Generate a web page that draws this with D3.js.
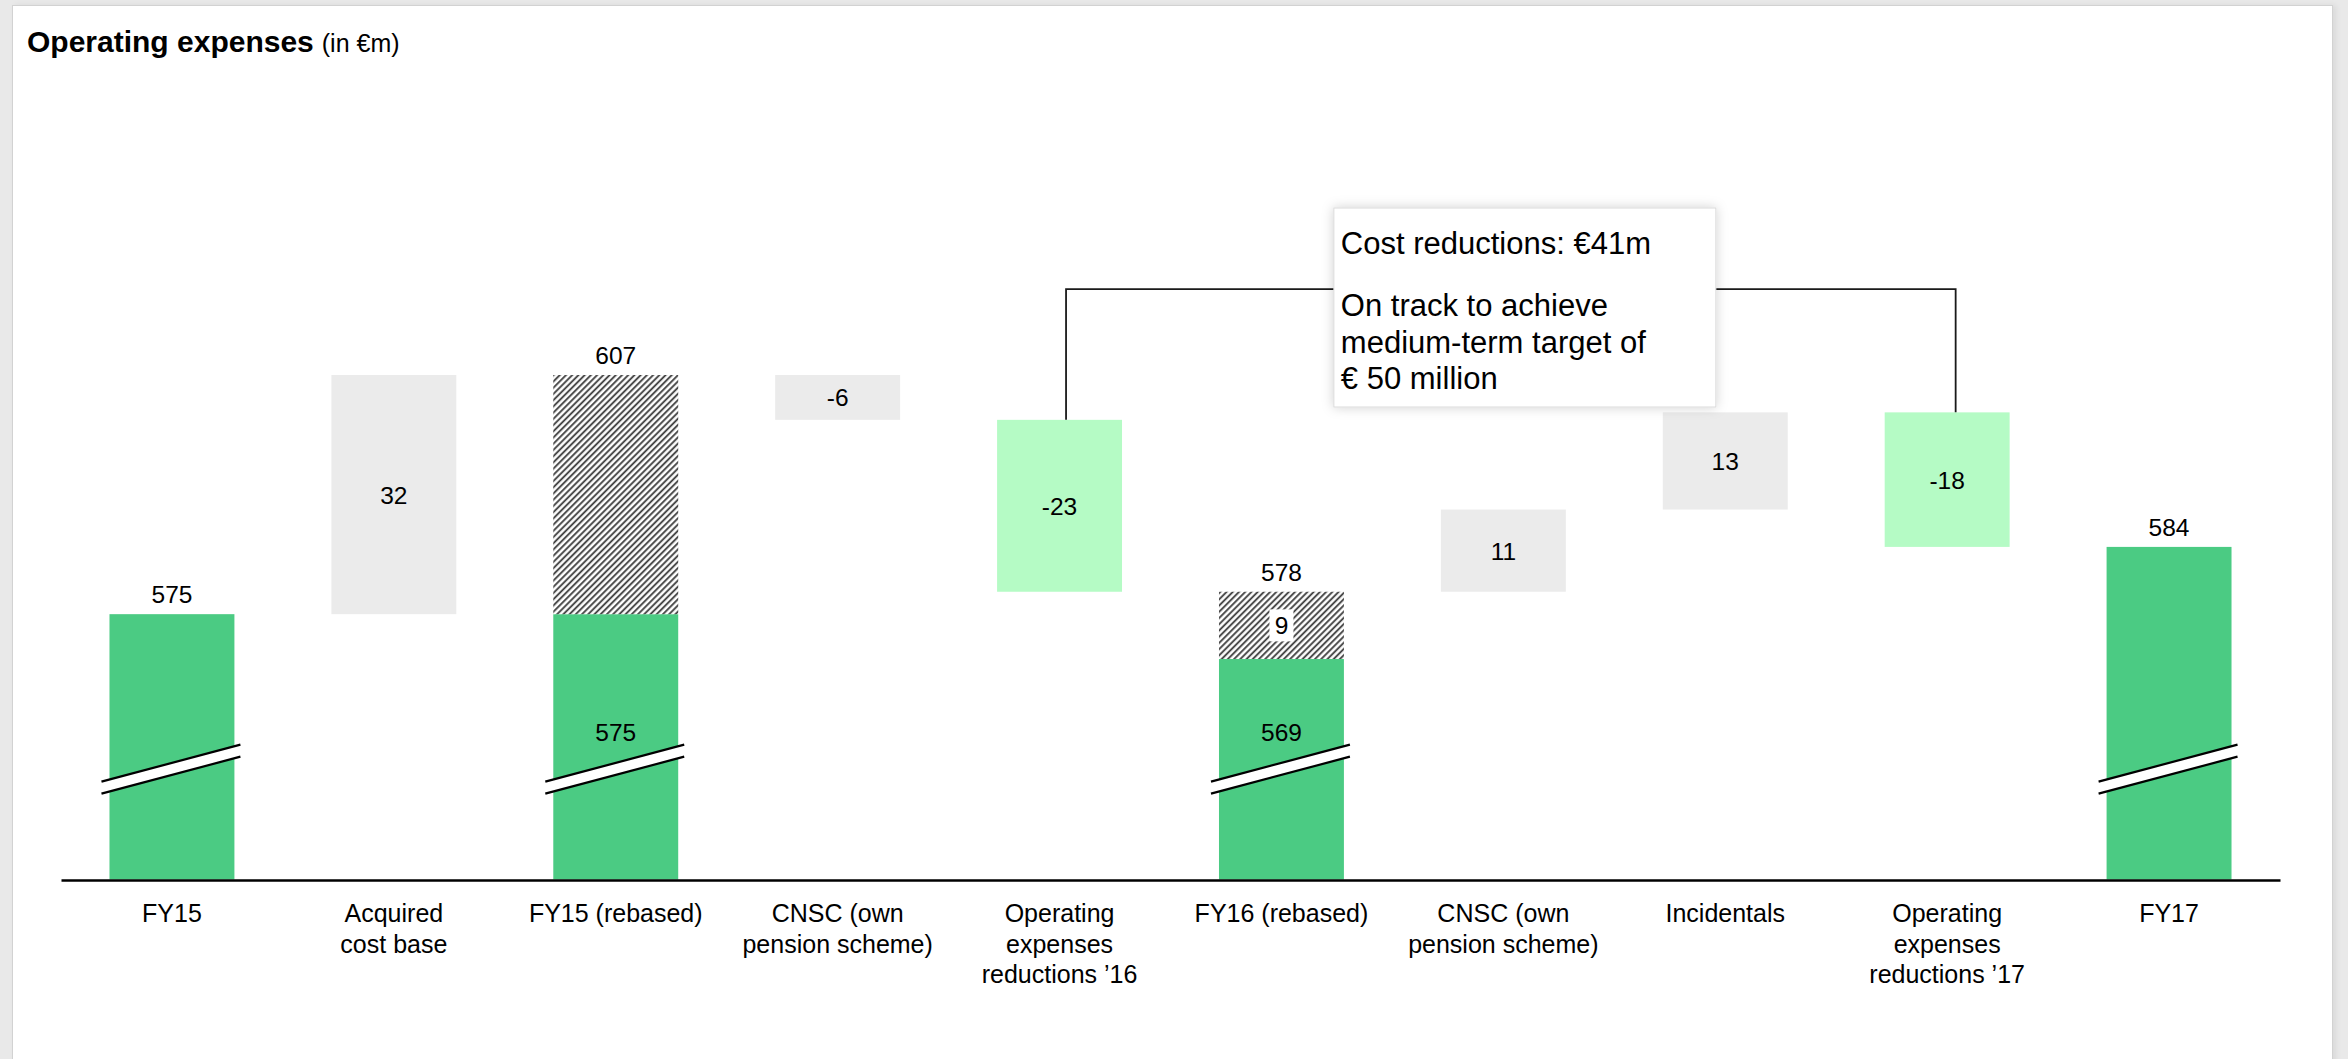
<!DOCTYPE html>
<html><head><meta charset="utf-8">
<script src="https://cdn.jsdelivr.net/npm/d3@7"></script>
<style>
html,body{margin:0;padding:0;background:#e9e9e9;width:2348px;height:1059px;overflow:hidden;font-family:"Liberation Sans",Arial,sans-serif;}
#panel{position:absolute;left:12px;top:5px;width:2319px;height:1100px;background:#fff;border:1px solid #d2d2d2;box-shadow:3px 0 6px rgba(0,0,0,0.07);}
svg{position:absolute;left:0;top:0;}
</style></head><body><div id="panel"></div><svg id="chart" width="2348" height="1059"></svg>
<script>
// Operating expenses bridge, FY15 -> FY17 (in €m)
const categories = ["FY15", "Acquired\ncost base", "FY15 (rebased)", "CNSC (own\npension scheme)",
  "Operating\nexpenses\nreductions ’16", "FY16 (rebased)", "CNSC (own\npension scheme)",
  "Incidentals", "Operating\nexpenses\nreductions ’17", "FY17"];
const barValues = [575, 32, 607, -6, -23, 578, 11, 13, -18, 584];
const barKinds = ["total", "step", "total", "step", "reduction", "total", "step", "step", "reduction", "total"];
// comparable base inside a rebased total (rest is shown hatched)
const underlyingValues = [null, null, 575, null, null, 569, null, null, null, null];
const showHatchLabel = [false, false, false, false, false, true, false, false, false, false];

const axisFloor = 539.5;   // value where the broken axis starts
const breakAt = 554.3;     // value where the break mark is drawn on totals
const bracketAt = 618.5;   // height of the cost-reduction bracket

const colors = { total: "#4bcb83", step: "#ebebeb", reduction: "#b5fbc5" };
const font = '"Liberation Sans", Arial, sans-serif';

const svg = d3.select("#chart");

// hatch pattern for the rebasing part of totals
const defs = svg.append("defs");
const pat = defs.append("pattern").attr("id", "hatch").attr("patternUnits", "userSpaceOnUse")
  .attr("width", 4.4).attr("height", 4.4).attr("patternTransform", "rotate(45)");
pat.append("rect").attr("width", 4.4).attr("height", 4.4).attr("fill", "#fff");
pat.append("line").attr("x1", 1.1).attr("y1", 0).attr("x2", 1.1).attr("y2", 4.4)
  .attr("stroke", "#3a3a3a").attr("stroke-width", 1.8);
const shadow = defs.append("filter").attr("id", "boxShadow").attr("x", -0.2).attr("y", -0.2)
  .attr("width", 1.4).attr("height", 1.4);
shadow.append("feDropShadow").attr("dx", 0).attr("dy", 0).attr("stdDeviation", 6)
  .attr("flood-color", "#000").attr("flood-opacity", 0.18);

// waterfall extents
let running = 0;
const bars = categories.map((c, i) => {
  const v = barValues[i], kind = barKinds[i];
  let a, b;
  if (kind === "total") { a = axisFloor; b = v; running = v; }
  else { a = running; b = running + v; running = b; }
  return { i, c, v, kind, lo: Math.min(a, b), hi: Math.max(a, b), under: underlyingValues[i] };
});

const x = d3.scaleBand().domain(d3.range(categories.length)).range([61, 2280])
  .paddingInner(0.437).paddingOuter(0.2185);
const y = d3.scaleLinear().domain([axisFloor, 607]).range([879.5, 375]);
const bw = x.bandwidth();

// title
const title = svg.append("text").attr("x", 27).attr("y", 52).attr("font-family", font);
title.append("tspan").attr("font-weight", "bold").attr("font-size", 30).text("Operating expenses");
title.append("tspan").attr("font-size", 25).attr("dx", 8).text("(in €m)");

const g = svg.append("g");

// bars
bars.forEach(d => {
  const x0 = x(d.i);
  if (d.kind === "total" && d.under != null) {
    g.append("rect").attr("x", x0).attr("width", bw).attr("y", y(d.under))
      .attr("height", y(axisFloor) - y(d.under)).attr("fill", colors.total);
    g.append("rect").attr("x", x0).attr("width", bw).attr("y", y(d.hi))
      .attr("height", y(d.under) - y(d.hi)).attr("fill", "url(#hatch)");
  } else {
    g.append("rect").attr("x", x0).attr("width", bw).attr("y", y(d.hi))
      .attr("height", y(d.lo) - y(d.hi)).attr("fill", colors[d.kind]);
  }
});

// axis break marks on totals
const slope = 0.266;
bars.filter(d => d.kind === "total").forEach(d => {
  const cx = x(d.i) + bw / 2, cy = y(breakAt);
  const xa = x(d.i) - 8, xb = x(d.i) + bw + 6;
  const yl = xv => cy - slope * (xv - cx);
  const half = 6;
  g.append("polygon")
    .attr("points", [[xa, yl(xa) - half], [xb, yl(xb) - half], [xb, yl(xb) + half], [xa, yl(xa) + half]].join(" "))
    .attr("fill", "#fff");
  [-half, half].forEach(o => g.append("line")
    .attr("x1", xa).attr("y1", yl(xa) + o).attr("x2", xb).attr("y2", yl(xb) + o)
    .attr("stroke", "#000").attr("stroke-width", 2.2));
});

// value labels
const lbl = g.append("g").attr("font-family", font).attr("font-size", 24.5)
  .attr("text-anchor", "middle").attr("fill", "#000");
bars.forEach(d => {
  const cx = x(d.i) + bw / 2;
  if (d.kind === "total") {
    lbl.append("text").attr("x", cx).attr("y", y(d.hi) - 11).text(d.v);
    if (d.under != null) {
      lbl.append("text").attr("x", cx).attr("y", y(breakAt) - 28).text(d.under);
      if (showHatchLabel[d.i]) {
        const mid = (y(d.hi) + y(d.under)) / 2;
        lbl.append("rect").attr("x", cx - 12).attr("y", mid - 16).attr("width", 24).attr("height", 32)
          .attr("fill", "#fff");
        lbl.append("text").attr("x", cx).attr("y", mid + 9).text(d.v - d.under);
      }
    }
  } else {
    lbl.append("text").attr("x", cx).attr("y", (y(d.hi) + y(d.lo)) / 2 + 9).text(String(d.v));
  }
});

// bracket linking the two reduction steps
const redIdx = bars.filter(d => d.kind === "reduction").map(d => d.i);
const xL = x(redIdx[0]) + bw / 2 + 6.5, xR = x(redIdx[1]) + bw / 2 + 8.5;
const yB = y(bracketAt);
g.append("path")
  .attr("d", `M${xL},${y(bars[redIdx[0]].hi)}V${yB}H${xR}V${y(bars[redIdx[1]].hi)}`)
  .attr("fill", "none").attr("stroke", "#1a1a1a").attr("stroke-width", 1.8);

// annotation box
const totalCut = -d3.sum(redIdx, i => barValues[i]);
const boxX = (xL + xR) / 2 - 177, boxY = 208;
g.append("rect").attr("x", boxX).attr("y", boxY).attr("width", 382).attr("height", 199)
  .attr("fill", "#fff").attr("stroke", "#dadada").attr("stroke-width", 1)
  .attr("filter", "url(#boxShadow)");
const boxText = g.append("text").attr("font-family", font).attr("font-size", 31).attr("fill", "#000");
[["Cost reductions: €" + totalCut + "m", 46], ["On track to achieve", 108],
 ["medium-term target of", 145], ["€ 50 million", 181]].forEach(([t, dy]) =>
  boxText.append("tspan").attr("x", boxX + 7).attr("y", boxY + dy).text(t));

// category axis
const axisG = svg.append("g").attr("transform", `translate(0,880)`)
  .call(d3.axisBottom(x).tickSize(0).tickSizeOuter(0).tickFormat(() => ""));
axisG.select(".domain").attr("stroke", "#000").attr("stroke-width", 2.5);
axisG.selectAll(".tick").each(function (i) {
  const t = d3.select(this).append("text").attr("fill", "#000").attr("font-family", font)
    .attr("font-size", 25).attr("text-anchor", "middle");
  categories[i].split("\n").forEach((line, k) =>
    t.append("tspan").attr("x", 0).attr("y", 42 + k * 30.5).text(line));
});
</script></body></html>
